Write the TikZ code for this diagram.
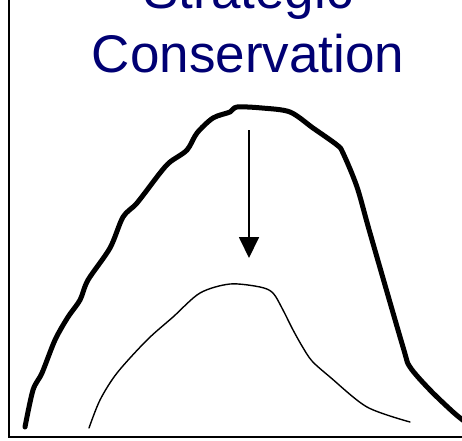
\documentclass[tikz,border=0pt]{standalone}
\usepackage{fontspec}
\setmainfont{Liberation Sans}
\usetikzlibrary{arrows.meta}
\definecolor{scnavy}{RGB}{0,0,115}
\tikzset{
  scaxis/.style={draw, line width=1.8pt},
  scthick/.style={line width=5pt, line cap=round, line join=round},
  scthin/.style={line width=1.4pt, line cap=round},
  scarrow/.style={-{Triangle[length=21pt, width=20pt]}, line width=1.8pt},
  sctitle/.style={font=\fontsize{53}{64}\selectfont, text=scnavy, align=center, inner sep=0pt},
}

\begin{document}
\begin{tikzpicture}[x=1pt, y=-1pt]
  \useasboundingbox (0,0) rectangle (462,440);
  \node[sctitle, anchor=south] (title) at (248,73) {Strategic\\Conservation};

  % axes
  \coordinate (origin) at (9,437);
  \coordinate (ytop) at (9,0);
  \coordinate (xend) at (462,437);
  \draw[scaxis] (ytop) -- (origin) -- (xend);

  % curves
  \draw[scthick] plot[smooth, tension=0.5] coordinates {
    (25,427) (33,390) (42,373) (55,340) (68,317) (80,300) (88,280) (110,248)
    (123,217) (137,203) (160,173) (170,162) (187,150) (197,133) (213,118)
    (230,112) (237,107) (262,108) (290,112) (313,128) (337,145) (343,153)
    (357,187) (370,233) (403,347) (410,367) (430,390) (453,412) (464,421)};
  \draw[scthin] plot[smooth, tension=0.5] coordinates {
    (89,428) (100,400) (117,373) (147,340) (173,317) (200,293) (230,284)
    (260,287) (273,293) (283,310) (292,328) (302,346) (312,361) (330,377)
    (367,407) (410,422)};

  \coordinate (droptop) at (249,130);
  \coordinate (droptip) at (249,258);
  \draw[scarrow] (droptop) -- (droptip);
\end{tikzpicture}
\end{document}
